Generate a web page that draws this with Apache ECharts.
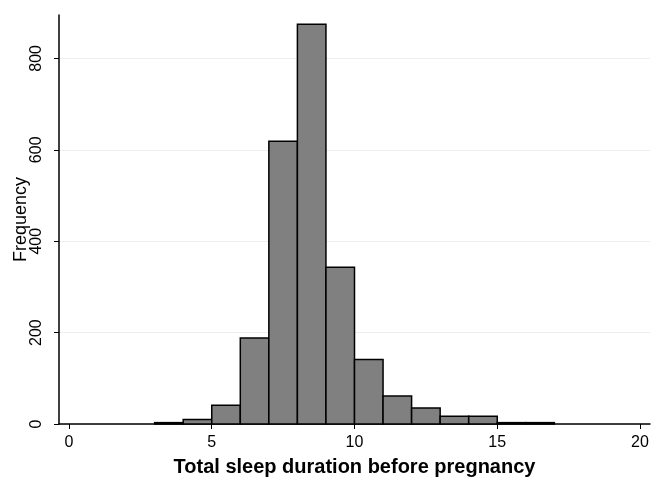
<!DOCTYPE html>
<html>
<head>
<meta charset="utf-8">
<script src="https://cdn.jsdelivr.net/npm/echarts@6/dist/echarts.min.js"></script>
<style>html,body{margin:0;padding:0;background:#fff}#c{width:653px;height:482px}</style>
</head>
<body>
<div id="c"></div>
<script>
var binStarts = [3, 4, 5, 6, 7, 8, 9, 10, 11, 12, 13, 14, 15, 16];
var binWidth = 1;
var counts = [3, 10, 41, 188, 619, 875, 343, 141, 61, 35, 17, 17, 3, 3];
var xTicks = [0, 5, 10, 15, 20];
var yTicks = [0, 200, 400, 600, 800];

var data = binStarts.map(function (s, i) { return [s, s + binWidth, counts[i]]; });

var chart = echarts.init(document.getElementById('c'));
chart.setOption({
  animation: false,
  grid: { left: 59, right: 3, top: 15, bottom: 58, containLabel: false, outerBoundsMode: 'none' },
  xAxis: {
    type: 'value', min: -0.35, max: 20.35,
    name: 'Total sleep duration before pregnancy',
    nameLocation: 'middle', nameGap: 33, nameMoveOverlap: false,
    nameTextStyle: { fontFamily: 'Liberation Sans', fontWeight: 'bold', fontSize: 20, color: '#000' },
    axisLine: { show: true, onZero: false, lineStyle: { color: '#000', width: 1.5 } },
    axisTick: { show: true, length: 5, lineStyle: { color: '#000' }, customValues: xTicks },
    axisLabel: { fontFamily: 'Liberation Sans', fontSize: 16, color: '#000', margin: 11, customValues: xTicks },
    splitLine: { show: false }
  },
  yAxis: {
    type: 'value', min: 0, max: 895,
    name: 'Frequency', nameLocation: 'middle', nameGap: 29, nameRotate: 90, nameMoveOverlap: false,
    nameTextStyle: { fontFamily: 'Liberation Sans', fontSize: 18, color: '#000' },
    axisLine: { show: true, onZero: false, lineStyle: { color: '#000', width: 1.5 } },
    axisTick: { show: true, length: 5, lineStyle: { color: '#000' }, customValues: yTicks },
    axisLabel: { fontFamily: 'Liberation Sans', fontSize: 16, color: '#000', rotate: 90, margin: 14, customValues: yTicks },
    splitLine: { show: true, lineStyle: { color: '#eeeeee', width: 1 } }
  },
  series: [{
    type: 'custom',
    data: data,
    renderItem: function (params, api) {
      var p0 = api.coord([api.value(0), 0]);
      var p1 = api.coord([api.value(1), api.value(2)]);
      return {
        type: 'rect',
        shape: { x: p0[0], y: p1[1], width: p1[0] - p0[0], height: p0[1] - p1[1] },
        style: { fill: '#808080', stroke: '#000', lineWidth: 1.5 }
      };
    }
  }]
});
</script>
</body>
</html>
